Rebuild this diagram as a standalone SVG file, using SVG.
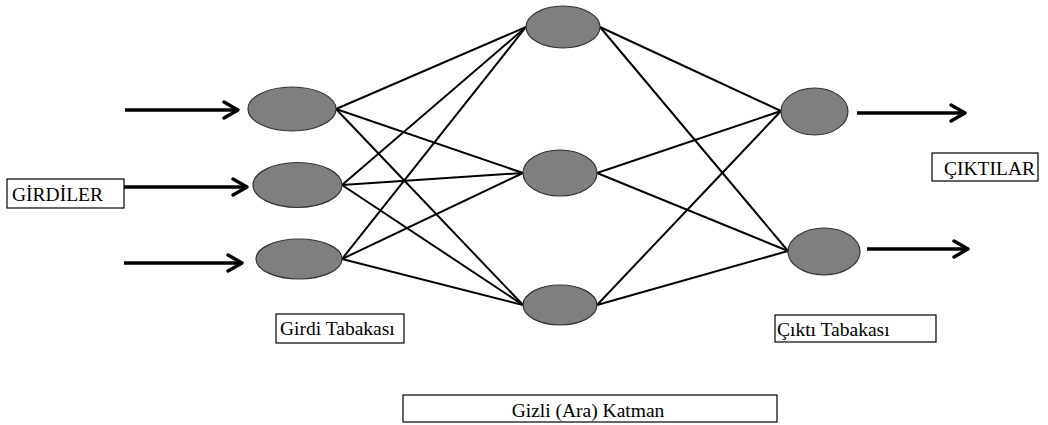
<svg xmlns="http://www.w3.org/2000/svg" width="1048" height="425" viewBox="0 0 1048 425">
<style>
.node{fill:#7f7f7f;stroke:#333;stroke-width:1.2}
.edge{stroke:#000;stroke-width:2;fill:none}
.arrow{stroke:#000;stroke-width:3.5;fill:none}
.head{stroke:#000;stroke-width:3.5;fill:none;stroke-linecap:round;stroke-linejoin:round}
.box{fill:#fff;stroke:#000;stroke-width:1.2}
</style>
<rect width="1048" height="425" fill="#fff"/>
<g id="connectors">
<line class="edge" x1="336" y1="109" x2="526" y2="27"/>
<line class="edge" x1="336" y1="109" x2="523" y2="173"/>
<line class="edge" x1="336" y1="109" x2="523" y2="305"/>
<line class="edge" x1="342" y1="185" x2="526" y2="27"/>
<line class="edge" x1="342" y1="185" x2="523" y2="173"/>
<line class="edge" x1="342" y1="185" x2="523" y2="305"/>
<line class="edge" x1="342" y1="259" x2="526" y2="27"/>
<line class="edge" x1="342" y1="259" x2="523" y2="173"/>
<line class="edge" x1="342" y1="259" x2="523" y2="305"/>
<line class="edge" x1="600" y1="27" x2="781" y2="111"/>
<line class="edge" x1="600" y1="27" x2="788" y2="251"/>
<line class="edge" x1="597" y1="173" x2="781" y2="111"/>
<line class="edge" x1="597" y1="173" x2="788" y2="251"/>
<line class="edge" x1="597" y1="305" x2="781" y2="111"/>
<line class="edge" x1="597" y1="305" x2="788" y2="251"/>
<line class="arrow" x1="125" y1="110" x2="237" y2="110"/>
<polyline class="head" points="224,102 238,110 224,118"/>
<line class="arrow" x1="124" y1="187" x2="246" y2="187"/>
<polyline class="head" points="233,179 247,187 233,195"/>
<line class="arrow" x1="124" y1="263" x2="241" y2="263"/>
<polyline class="head" points="228,255 242,263 228,271"/>
<line class="arrow" x1="857" y1="113" x2="964" y2="113"/>
<polyline class="head" points="951,105 965,113 951,121"/>
<line class="arrow" x1="867" y1="249" x2="967" y2="249"/>
<polyline class="head" points="954,241 968,249 954,257"/>
</g>
<g id="in1"><ellipse class="node" cx="292" cy="109" rx="44" ry="22"/></g>
<g id="in2"><ellipse class="node" cx="297.5" cy="185" rx="44.5" ry="22.5"/></g>
<g id="in3"><ellipse class="node" cx="299" cy="259" rx="43" ry="20"/></g>
<g id="hid1"><ellipse class="node" cx="563" cy="27" rx="37" ry="21"/></g>
<g id="hid2"><ellipse class="node" cx="560" cy="173" rx="37" ry="23"/></g>
<g id="hid3"><ellipse class="node" cx="560" cy="305" rx="37" ry="20"/></g>
<g id="out1"><ellipse class="node" cx="814.5" cy="111.5" rx="33.5" ry="23.5"/></g>
<g id="out2"><ellipse class="node" cx="824" cy="251.5" rx="36" ry="23.5"/></g>
<g font-family="Liberation Serif, Times New Roman, DejaVu Serif, serif" font-size="19.5" fill="#000">
<g id="girdiler"><rect class="box" x="7" y="179" width="117" height="29"/><text x="12" y="201">GİRDİLER</text></g>
<g id="ciktilar"><rect class="box" x="932" y="153" width="106" height="28"/><text x="944" y="175">ÇIKTILAR</text></g>
<g id="girdi-tabakasi"><rect class="box" x="276" y="314" width="128" height="29"/><text x="280" y="335">Girdi Tabakası</text></g>
<g id="cikti-tabakasi"><rect class="box" x="775" y="315" width="161" height="27"/><text x="777" y="336">Çıktı Tabakası</text></g>
<g id="gizli"><rect class="box" x="403" y="395" width="374" height="27"/><text x="588" y="417" text-anchor="middle">Gizli (Ara) Katman</text></g>
</g>
</svg>
